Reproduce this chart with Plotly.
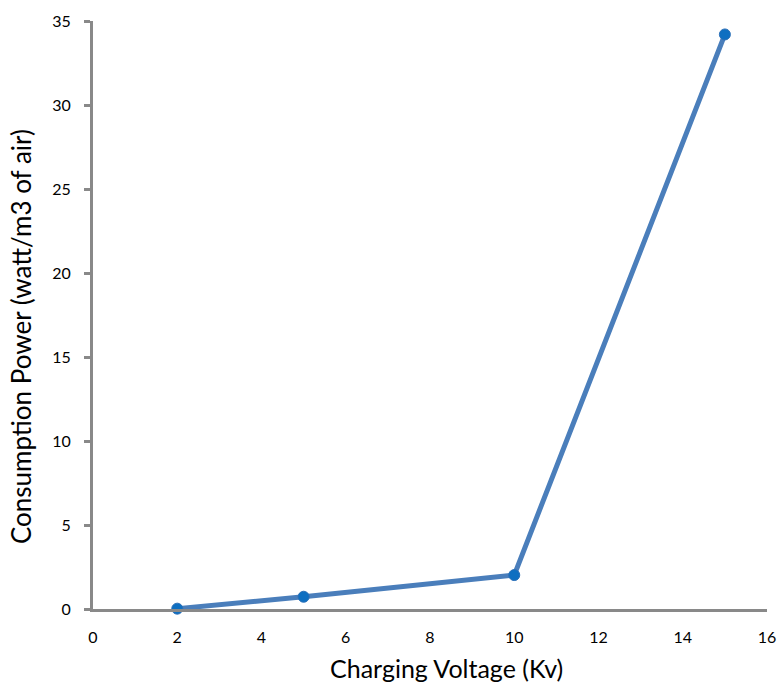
import plotly.graph_objects as go

voltage = [2, 5, 10, 15]
power = [0.02, 0.73, 2.02, 34.2]
x_ticks = [0, 2, 4, 6, 8, 10, 12, 14, 16]
y_ticks = [0, 5, 10, 15, 20, 25, 30, 35]
x_title = "Charging Voltage (Kv)"
y_title = "Consumption Power (watt/m3 of air)"

fig = go.Figure()
fig.add_trace(go.Scatter(
    x=voltage, y=power, mode="lines+markers",
    line=dict(color="#4A7EBB", width=5),
    marker=dict(color="#0E6FC1", size=11, line=dict(color="#2A6FB8", width=1)),
    showlegend=False, cliponaxis=False,
))

font_family = "Lato, Open Sans, sans-serif"
fig.update_layout(
    width=781, height=686, autosize=False,
    margin=dict(l=93, r=14, t=21, b=77),
    paper_bgcolor="white", plot_bgcolor="white",
    font=dict(family=font_family, color="black"),
)
fig.update_xaxes(
    range=[0, 16], tickvals=x_ticks, showgrid=False, zeroline=False,
    showline=True, linecolor="#898989", linewidth=3, automargin=False,
    ticks="", tickfont=dict(size=16), ticklabelstandoff=12,
)
fig.update_yaxes(
    range=[0, 35], tickvals=y_ticks, showgrid=False, zeroline=False,
    showline=True, linecolor="#898989", linewidth=3, automargin=False,
    ticks="outside", ticklen=6, tickwidth=3, tickcolor="#898989",
    tickfont=dict(size=16), ticklabelstandoff=10,
)
fig.add_annotation(
    text=x_title, xref="paper", yref="paper", x=0.525, y=-0.100,
    showarrow=False, font=dict(size=25), xanchor="center", yanchor="middle",
)
fig.add_annotation(
    text=y_title, xref="paper", yref="paper", x=-0.107, y=0.464,
    showarrow=False, font=dict(size=26), textangle=-90,
    xanchor="center", yanchor="middle",
)
fig.write_html(
    "out.html",
    config={"displayModeBar": False, "responsive": False},
    post_script=(
        "document.body.style.margin='0';"
        "document.body.style.overflow='hidden';"
        "document.documentElement.style.overflow='hidden';"
    ),
)
